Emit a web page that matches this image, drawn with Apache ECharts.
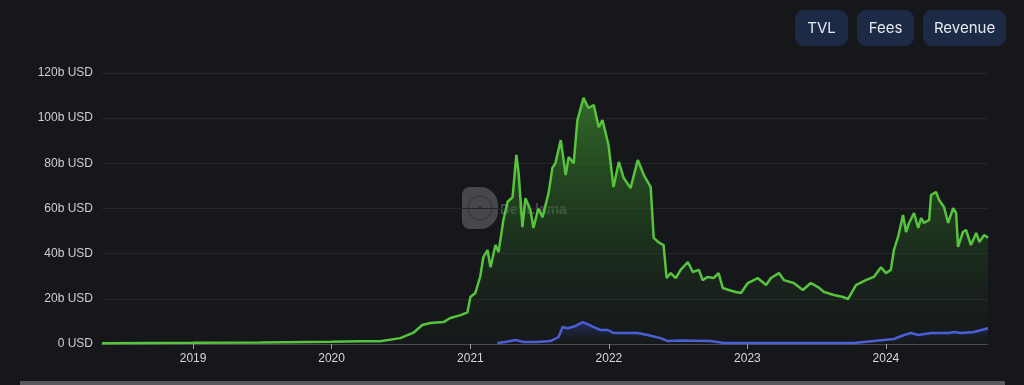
<!DOCTYPE html>
<html>
<head>
<meta charset="utf-8">
<script src="https://cdn.jsdelivr.net/npm/echarts@6/dist/echarts.min.js"></script>
<style>
html,body{margin:0;padding:0;background:#16171b;}
#c{width:1024px;height:385px;}
</style>
</head>
<body>
<div id="c"></div>
<script>
// TVL (billions USD)
const tvlDates = ['2018-05-06','2018-09-10','2019-01-01','2019-06-27','2019-12-31','2020-03-17','2020-05-08','2020-06-30','2020-08-04','2020-08-27','2020-09-17','2020-10-22','2020-11-09','2020-12-06','2020-12-24','2021-01-01','2021-01-14','2021-01-27','2021-02-04','2021-02-15','2021-02-23','2021-03-08','2021-03-16','2021-03-29','2021-04-09','2021-04-22','2021-05-02','2021-05-08','2021-05-18','2021-05-26','2021-06-08','2021-06-16','2021-06-29','2021-07-10','2021-07-26','2021-08-05','2021-08-13','2021-08-27','2021-09-09','2021-09-17','2021-09-30','2021-10-10','2021-10-26','2021-11-08','2021-11-22','2021-12-05','2021-12-15','2021-12-31','2022-01-13','2022-01-27','2022-02-09','2022-02-27','2022-03-18','2022-04-03','2022-04-21','2022-04-29','2022-05-12','2022-05-25','2022-06-02','2022-06-13','2022-06-26','2022-07-09','2022-07-28','2022-08-10','2022-08-26','2022-09-05','2022-09-18','2022-10-04','2022-10-17','2022-10-28','2022-11-13','2022-12-01','2022-12-15','2023-01-02','2023-01-28','2023-02-19','2023-03-04','2023-03-25','2023-04-07','2023-05-03','2023-05-27','2023-06-17','2023-07-06','2023-07-22','2023-08-17','2023-09-10','2023-09-23','2023-10-14','2023-11-09','2023-11-30','2023-12-19','2024-01-01','2024-01-14','2024-01-22','2024-02-02','2024-02-15','2024-02-23','2024-03-02','2024-03-15','2024-03-26','2024-04-03','2024-04-10','2024-04-24','2024-04-29','2024-05-12','2024-05-20','2024-06-02','2024-06-13','2024-06-26','2024-07-04','2024-07-09','2024-07-22','2024-07-30','2024-08-12','2024-08-26','2024-09-03','2024-09-16','2024-09-26'];
const tvlValues = [0.3,0.4,0.5,0.7,1.0,1.2,1.2,2.6,5,8.4,9.3,9.7,11.5,12.8,14,20.8,22.6,30,38.5,41.6,34,43.8,40.7,55,63,65,83.7,75.7,51.8,64.6,59.3,51.4,60,56.2,66.9,78,80.1,90.3,74.8,82.8,80,99.2,109,104.5,105.8,96,99.2,88,69.5,80.6,73.5,69,81.5,74.8,69.5,47,45,43.8,29.2,31.4,29.2,32.8,36.3,31.9,32.8,28.3,29.7,29.2,31.4,24.8,23.9,23,22.6,27,29.2,26.1,29.2,31.4,28.3,27,23.9,27,25.2,23,21.7,20.8,19.9,26.1,28.3,29.7,34,31.4,32.8,41.6,47.4,57.1,49.6,53.6,58,51.4,55.8,53.6,54.9,66,67.3,63.8,60.7,53.6,60.2,58,43,49.6,50.5,43.8,49.2,45.2,48.3,47];

// Second series (billions USD)
const feeDates = ['2021-03-13','2021-04-03','2021-04-30','2021-05-21','2021-06-27','2021-07-31','2021-08-21','2021-09-01','2021-09-14','2021-10-05','2021-10-24','2021-11-06','2021-11-22','2021-12-10','2021-12-29','2022-01-13','2022-02-19','2022-03-18','2022-04-13','2022-05-17','2022-06-05','2022-07-09','2022-09-26','2022-10-31','2023-03-30','2023-10-09','2023-11-30','2024-01-22','2024-02-18','2024-03-07','2024-03-26','2024-04-29','2024-06-13','2024-06-29','2024-07-17','2024-08-20','2024-09-26'];
const feeValues = [0.4,0.9,1.8,0.9,0.9,1.3,3.1,7.5,7,8,9.7,8.8,7.5,6.2,6.2,4.9,4.9,4.9,4,2.6,1.3,1.5,1.3,0.4,0.4,0.4,1.3,2.2,4,4.9,4,4.9,4.9,5.3,4.9,5.3,7];

const yTicks = [0,20,40,60,80,100,120];
const buttons = ['TVL','Fees','Revenue'];

const chart = echarts.init(document.getElementById('c'), null, {renderer:'canvas'});
const pair = (d, v) => d.map((x, i) => [x, v[i]]);

const btnX = [795, 857, 923];
const btnW = [53, 57, 83];
const graphics = buttons.map((t, i) => ({
  type: 'group', left: btnX[i], top: 10,
  children: [
    {type:'rect', shape:{x:0,y:0,width:btnW[i],height:36,r:9}, style:{fill:'#1d2a45'}},
    {type:'text', style:{x:btnW[i]/2, y:18, text:t, fill:'#e4e8f0', font:'15px Inter, "Noto Sans", sans-serif', align:'center', verticalAlign:'middle'}}
  ]
}));
graphics.push({
  type:'group', left:462, top:187, z:1,
  children:[
    {type:'rect', shape:{x:0,y:0,width:36,height:42,r:[8,18,18,8]}, style:{fill:'rgba(120,120,125,0.5)'}},
    {type:'circle', shape:{cx:18,cy:21,r:12}, style:{fill:'none', stroke:'rgba(50,50,55,0.5)', lineWidth:2}},
    {type:'circle', shape:{cx:18,cy:21,r:2}, style:{fill:'rgba(40,40,45,0.7)'}},
    {type:'text', style:{x:38, y:23, text:'DefiLlama', fill:'rgba(120,121,126,0.5)', font:'bold 14px "Liberation Sans", Arial, sans-serif', verticalAlign:'middle'}}
  ]
});
graphics.push({type:'rect', left:20, top:381, shape:{x:0,y:0,width:985,height:6}, style:{fill:'#58595d'}});

chart.setOption({
  backgroundColor:'#16171b',
  animation:false,
  grid:{left:102, right:36, top:73, bottom:41},
  xAxis:{
    type:'time',
    min:'2018-05-06', max:'2024-09-26',
    minInterval: 365*24*3600*1000,
    axisLine:{lineStyle:{color:'#4a4b50'}},
    axisTick:{show:true, length:5, lineStyle:{color:'#9a9ba0'}},
    axisLabel:{color:'#d8d8d8', fontSize:12, fontFamily:'"Liberation Sans", Arial, sans-serif', margin:9, formatter:'{yyyy}'},
    splitLine:{show:false}
  },
  yAxis:{
    type:'value', min:yTicks[0], max:yTicks[yTicks.length-1], interval:20,
    axisLine:{show:false}, axisTick:{show:false},
    axisLabel:{color:'#cfcfcf', fontSize:12, fontFamily:'"Liberation Sans", Arial, sans-serif', margin:9, formatter: v => v + (v===0?' USD':'b USD')},
    splitLine:{lineStyle:{color:'#26272c', width:1}}
  },
  graphic: graphics,
  series:[
    {
      type:'line', name:'TVL', data:pair(tvlDates, tvlValues), showSymbol:false, smooth:false, z:3,
      lineStyle:{color:'#56c43c', width:2.5},
      areaStyle:{color:new echarts.graphic.LinearGradient(0,0,0,1,[{offset:0,color:'rgba(72,170,50,0.8)'},{offset:0.5,color:'rgba(45,115,35,0.5)'},{offset:1,color:'rgba(25,40,25,0.15)'}])}
    },
    {
      type:'line', name:'Fees', data:pair(feeDates, feeValues), showSymbol:false, smooth:false, z:4,
      lineStyle:{color:'#4a5fd6', width:2.5},
      areaStyle:{color:new echarts.graphic.LinearGradient(0,0,0,1,[{offset:0,color:'rgba(60,80,200,0.6)'},{offset:1,color:'rgba(22,23,27,0.1)'}])}
    }
  ]
});
</script>
</body>
</html>
